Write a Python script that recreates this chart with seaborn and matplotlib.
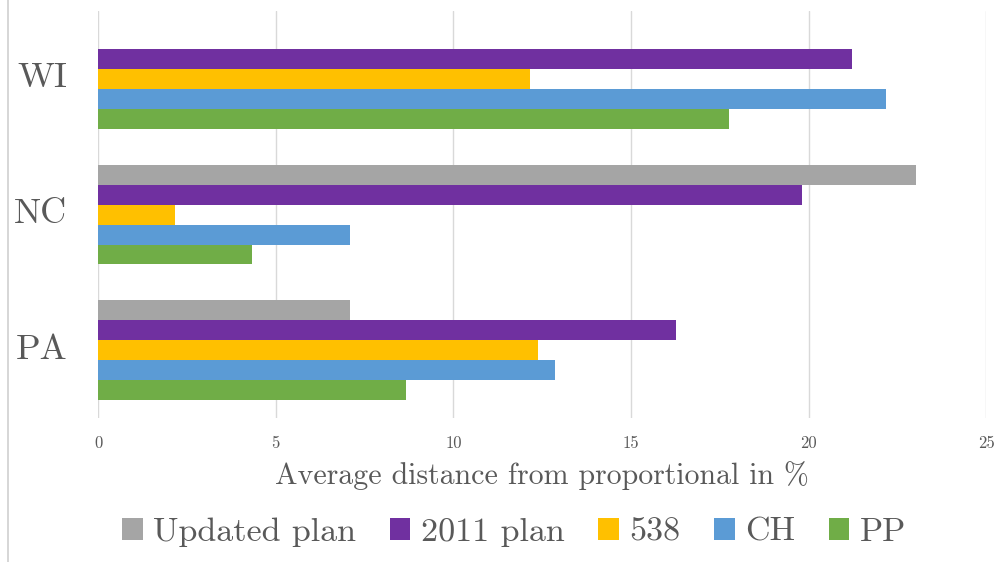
import numpy as np
import pandas as pd
import matplotlib
matplotlib.use("Agg")
import matplotlib.pyplot as plt
from matplotlib.patches import Patch
from matplotlib.lines import Line2D
from matplotlib.transforms import ScaledTranslation
import seaborn as sns

# Average distance from proportional (%) per state and districting plan
states = ["WI", "NC", "PA"]
plans = ["Updated plan", "2011 plan", "538", "CH", "PP"]
updated_plan = [np.nan, 23.03, 7.09]
plan_2011 = [21.22, 19.81, 16.26]
fivethirtyeight = [12.16, 2.17, 12.37]
ch = [22.19, 7.09, 12.86]
pp = [17.75, 4.34, 8.68]
colors = ["#A5A5A5", "#7030A0", "#FFC000", "#5B9BD5", "#70AD47"]
x_ticks = [0, 5, 10, 15, 20, 25]

series = [updated_plan, plan_2011, fivethirtyeight, ch, pp]
df = pd.DataFrame(
    [(s, p, v) for p, vals in zip(plans, series) for s, v in zip(states, vals)],
    columns=["state", "plan", "value"],
)

sns.set_theme(style="white")
plt.rcParams["font.family"] = ["cmr10", "DejaVu Serif"]
plt.rcParams["axes.unicode_minus"] = False
text_color = "#595959"

fig = plt.figure(figsize=(9.97, 5.62), dpi=100)
ax = fig.add_axes([98 / 997, 1 - 418 / 562, (986.3 - 98) / 997, (418 - 11.3) / 562])

sns.barplot(
    data=df, x="value", y="state", hue="plan", order=states, hue_order=plans,
    palette=colors, orient="h", width=100 / 136, gap=0, saturation=1,
    linewidth=0, ax=ax, legend=False,
)

ax.set_xlim(0, 25)
ax.set_ylim(2.5, -0.5)
ax.set_xticks(x_ticks)
ax.set_xticklabels([str(t) for t in x_ticks], fontsize=12, color=text_color)
ax.set_yticks(range(len(states)))
ax.set_yticklabels(states, fontsize=26, color=text_color)
ax.tick_params(axis="x", length=0, pad=13)
ax.tick_params(axis="y", length=0, pad=22)
# lift the state labels slightly above the group centres
for lbl in ax.get_yticklabels():
    lbl.set_transform(lbl.get_transform() + ScaledTranslation(0, 4 / 100, fig.dpi_scale_trans))
ax.grid(axis="x", color="#D9D9D9", linewidth=1)
ax.grid(axis="y", visible=False)
ax.set_axisbelow(True)
for sp in ax.spines.values():
    sp.set_visible(False)
ax.set_ylabel("")
ax.set_xlabel("Average distance from proportional in %", fontsize=21.5,
              color=text_color, labelpad=7)

handles = [Patch(facecolor=c, edgecolor="none", label=p) for c, p in zip(colors, plans)]
fig.legend(
    handles=handles, loc="center", bbox_to_anchor=(514 / 997, 1 - 532 / 562), ncol=5,
    frameon=False, fontsize=24.5, labelcolor=text_color, handlelength=0.6,
    handleheight=0.6, handletextpad=0.3, columnspacing=1.0,
)

# thin frame line on the left edge
fig.add_artist(Line2D([8 / 997, 8 / 997], [0, 1], color="#D0D0D0", linewidth=1.2))

fig.savefig("out.png", dpi=100)
